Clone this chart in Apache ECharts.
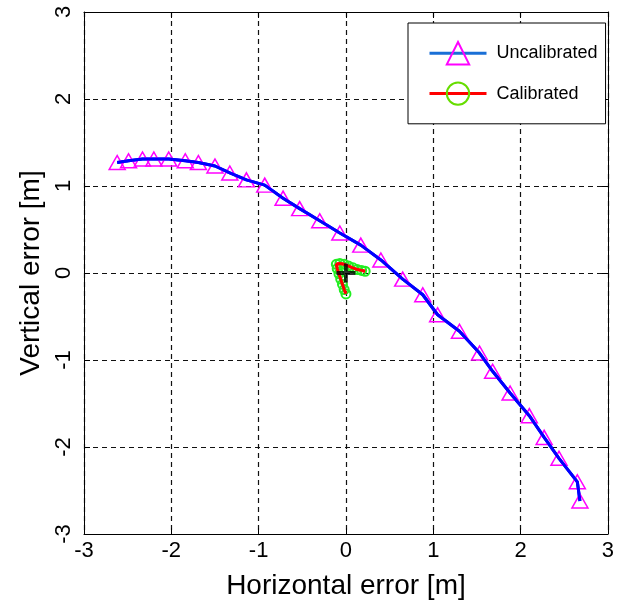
<!DOCTYPE html>
<html><head><meta charset="utf-8">
<script src="https://cdn.jsdelivr.net/npm/echarts/dist/echarts.min.js"></script>
<style>html,body{margin:0;padding:0;background:#fff}#c{width:617px;height:605px}</style>
</head><body><div id="c"></div>
<script>
// ---- data ----
const xTicks = [-3, -2, -1, 0, 1, 2, 3];
const yTicks = [-3, -2, -1, 0, 1, 2, 3];
const uncalX = [-2.62, -2.49, -2.33, -2.20, -2.03, -1.84, -1.69, -1.50, -1.33, -1.14, -0.93, -0.72, -0.53, -0.30, -0.07, 0.17, 0.40, 0.65, 0.88, 1.05, 1.30, 1.53, 1.68, 1.88, 2.10, 2.27, 2.44, 2.65, 2.68];
const uncalY = [1.27, 1.29, 1.31, 1.31, 1.31, 1.29, 1.27, 1.23, 1.15, 1.07, 1.01, 0.86, 0.74, 0.60, 0.46, 0.32, 0.15, -0.07, -0.25, -0.48, -0.67, -0.92, -1.13, -1.38, -1.64, -1.89, -2.13, -2.40, -2.62];
const calX = [0.00, -0.02, -0.04, -0.06, -0.08, -0.10, -0.11, -0.07, -0.02, 0.03, 0.08, 0.13, 0.18, 0.22];
const calY = [-0.24, -0.19, -0.13, -0.07, -0.01, 0.05, 0.10, 0.11, 0.10, 0.08, 0.06, 0.04, 0.03, 0.02];
const originX = [0];
const originY = [0];

const zip = (a, b) => a.map((v, i) => [v, b[i]]);
const FONT = "'Liberation Sans', Arial, sans-serif";

const chart = echarts.init(document.getElementById('c'), null, {renderer: 'canvas'});

const baseX = {
  type: 'value', min: xTicks[0], max: xTicks[xTicks.length - 1], interval: 1,
  axisLine: {show: true, onZero: false, lineStyle: {color: '#000', width: 1}},
  axisTick: {show: true, inside: true, length: 6, lineStyle: {color: '#000'}},
};
const baseY = {
  type: 'value', min: yTicks[0], max: yTicks[yTicks.length - 1], interval: 1,
  axisLine: {show: true, onZero: false, lineStyle: {color: '#000', width: 1}},
  axisTick: {show: true, inside: true, length: 6, lineStyle: {color: '#000'}},
};
const gridLine = {show: true, lineStyle: {color: '#111', type: [5, 4], width: 1.2}};

chart.setOption({
  animation: false,
  backgroundColor: '#fff',
  textStyle: {fontFamily: FONT},
  grid: {left: 84, right: 7, top: 12, bottom: 66},
  xAxis: [
    Object.assign({}, baseX, {
      position: 'bottom',
      axisLabel: {fontSize: 22, color: '#000', margin: 6, fontFamily: FONT},
      splitLine: gridLine,
      name: 'Horizontal error [m]', nameLocation: 'middle', nameGap: 38,
      nameTextStyle: {fontSize: 28, color: '#000', fontFamily: FONT}
    }),
    Object.assign({}, baseX, {position: 'top', axisLabel: {show: false}, splitLine: {show: false}})
  ],
  yAxis: [
    Object.assign({}, baseY, {
      position: 'left',
      axisLabel: {fontSize: 22, color: '#000', margin: 9, rotate: 90, fontFamily: FONT},
      splitLine: gridLine,
      name: 'Vertical error [m]', nameLocation: 'middle', nameGap: 39,
      nameTextStyle: {fontSize: 28, color: '#000', fontFamily: FONT}
    }),
    Object.assign({}, baseY, {position: 'right', axisLabel: {show: false}, splitLine: {show: false}})
  ],
  legend: {
    orient: 'vertical', left: 408, top: 23,
    padding: [18, 8, 18, 20], itemWidth: 57, itemHeight: 28, itemGap: 16,
    borderColor: '#000', borderWidth: 1, backgroundColor: '#fff', borderRadius: 0,
    textStyle: {fontSize: 18, color: '#000', fontFamily: FONT, padding: [0, 0, 0, 5]},
    data: [
      {name: 'Uncalibrated', lineStyle: {color: '#1a6fd6', width: 3}},
      {name: 'Calibrated', lineStyle: {color: '#ff0000', width: 3}, itemStyle: {borderColor: '#66dd00'}}
    ]
  },
  series: [
    {
      name: 'Uncalibrated', type: 'line', data: zip(uncalX, uncalY),
      symbol: 'triangle', symbolSize: [16, 14], showAllSymbol: true,
      lineStyle: {color: '#0000ff', width: 3},
      itemStyle: {color: 'rgba(255,255,255,0)', borderColor: '#ff00ff', borderWidth: 1.5},
      z: 2
    },
    {
      name: 'uncalLine', type: 'line', data: zip(uncalX, uncalY), symbol: 'none',
      lineStyle: {color: '#0000ff', width: 3}, silent: true, z: 3
    },
    {
      name: 'Calibrated', type: 'line', data: zip(calX, calY),
      symbol: 'circle', symbolSize: 9, showAllSymbol: true,
      lineStyle: {color: '#ff0000', width: 3},
      itemStyle: {color: 'rgba(255,255,255,0)', borderColor: '#22ee22', borderWidth: 2},
      z: 4
    },
    {
      name: 'calLine', type: 'line', data: zip(calX, calY), symbol: 'none',
      lineStyle: {color: '#ff0000', width: 3}, silent: true, z: 5
    },
    {
      name: 'origin', type: 'scatter', data: zip(originX, originY),
      symbol: 'path://M4,0H6V10H4Z M0,4H10V6H0Z', symbolSize: 19,
      itemStyle: {color: '#000'}, silent: true, z: 10
    }
  ]
});
</script>
</body></html>
